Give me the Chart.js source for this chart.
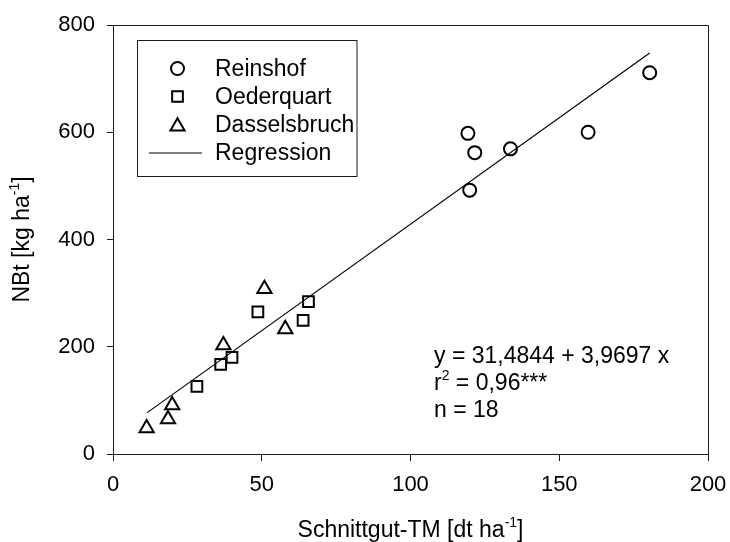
<!DOCTYPE html>
<html><head><meta charset="utf-8">
<script src="https://cdn.jsdelivr.net/npm/chart.js@4.4.1/dist/chart.umd.min.js"></script>
<style>html,body{margin:0;padding:0;background:#fff}</style>
</head><body>
<canvas id="c" width="730" height="542"></canvas>
<script>
// ---- data ----
const seriesNames = ['Reinshof', 'Oederquart', 'Dasselsbruch', 'Regression'];
const reinshofX = [119.3, 121.6, 119.9, 133.6, 159.7, 180.4];
const reinshofY = [598, 562, 492, 569, 600, 711];
const oederquartX = [28.2, 36.2, 40.0, 48.7, 63.9, 65.7];
const oederquartY = [126, 167, 180, 265, 249, 284];
const dasselsbruchX = [11.3, 18.5, 19.9, 37.1, 50.9, 57.9];
const dasselsbruchY = [48, 65, 91, 203, 308, 233];
const regIntercept = 31.4844;
const regSlope = 3.9697;
const regX = [11.5, 180.4];
const xTicks = [0, 50, 100, 150, 200];
const yTicks = [0, 200, 400, 600, 800];
const xTitle = ['Schnittgut-TM [dt ha', '-1', ']'];
const yTitle = ['NBt [kg ha', '-1', ']'];
const statLines = ['y = 31,4844 + 3,9697 x', 'r', '2', ' = 0,96***', 'n = 18'];

const FONT = "'Liberation Sans', Arial, sans-serif";
const INK = '#1a1a1a';
const pts = (xs, ys) => xs.map((x, i) => ({x: x, y: ys[i]}));

const styles = [
  {pointStyle: 'circle', radius: 6.5},
  {pointStyle: 'rect', radius: 7.6},
  {pointStyle: 'triangle', radius: 8.2}
];

function drawMarker(ctx, style, x, y, r) {
  ctx.beginPath();
  if (style === 'circle') {
    ctx.arc(x, y, r, 0, Math.PI * 2);
  } else if (style === 'rect') {
    const s = r * Math.SQRT1_2;
    ctx.rect(x - s, y - s, 2 * s, 2 * s);
  } else {
    let a = 0;
    ctx.moveTo(x + Math.sin(a) * r, y - Math.cos(a) * r);
    a += 2 * Math.PI / 3;
    ctx.lineTo(x + Math.sin(a) * r, y - Math.cos(a) * r);
    a += 2 * Math.PI / 3;
    ctx.lineTo(x + Math.sin(a) * r, y - Math.cos(a) * r);
    ctx.closePath();
  }
  ctx.stroke();
}

function supText(ctx, parts, x, y, size) {
  ctx.font = size + 'px ' + FONT;
  const w0 = ctx.measureText(parts[0]).width;
  ctx.font = Math.round(size * 0.62) + 'px ' + FONT;
  const w1 = ctx.measureText(parts[1]).width;
  ctx.font = size + 'px ' + FONT;
  const w2 = ctx.measureText(parts[2]).width;
  return {w: w0 + w1 + w2, draw: function () {
    ctx.font = size + 'px ' + FONT;
    ctx.fillText(parts[0], x, y);
    ctx.font = Math.round(size * 0.62) + 'px ' + FONT;
    ctx.fillText(parts[1], x + w0, y - size * 0.42);
    ctx.font = size + 'px ' + FONT;
    ctx.fillText(parts[2], x + w0 + w1, y);
  }};
}

const decor = {
  id: 'decor',
  afterDraw(chart) {
    const ctx = chart.ctx;
    const a = chart.chartArea;
    ctx.save();
    // frame top & right
    ctx.strokeStyle = INK;
    ctx.lineWidth = 1;
    ctx.beginPath();
    ctx.moveTo(Math.round(a.left) + 0.5, Math.round(a.top) + 0.5);
    ctx.lineTo(Math.round(a.right) + 0.5, Math.round(a.top) + 0.5);
    ctx.lineTo(Math.round(a.right) + 0.5, Math.round(a.bottom) + 0.5);
    ctx.stroke();

    // legend
    ctx.strokeRect(137.5, 40.5, 219.5, 136);
    ctx.fillStyle = '#000';
    ctx.textBaseline = 'middle';
    ctx.textAlign = 'left';
    ctx.font = '23px ' + FONT;
    for (let i = 0; i < seriesNames.length; i++) {
      const yy = 68.5 + i * 28;
      ctx.strokeStyle = '#000';
      if (i < 3) {
        ctx.lineWidth = 2;
        const yOff = styles[i].pointStyle === 'triangle' ? 2 : 0;
        drawMarker(ctx, styles[i].pointStyle, 177.5, yy + yOff, styles[i].radius);
      } else {
        ctx.lineWidth = 1;
        ctx.beginPath();
        ctx.moveTo(149, yy + 0.5);
        ctx.lineTo(202, yy + 0.5);
        ctx.stroke();
      }
      ctx.fillText(seriesNames[i], 215, yy + 1);
    }

    // statistics text
    ctx.textBaseline = 'alphabetic';
    ctx.font = '23px ' + FONT;
    const sx = 434;
    ctx.fillText(statLines[0], sx, 363);
    ctx.fillText(statLines[1], sx, 390);
    const rw = ctx.measureText(statLines[1]).width;
    ctx.font = '14px ' + FONT;
    ctx.fillText(statLines[2], sx + rw, 380);
    const sw = ctx.measureText(statLines[2]).width;
    ctx.font = '23px ' + FONT;
    ctx.fillText(statLines[3], sx + rw + sw, 390);
    ctx.fillText(statLines[4], sx, 417);

    // x title
    const cx = (a.left + a.right) / 2;
    let t = supText(ctx, xTitle, 0, 0, 23);
    t = supText(ctx, xTitle, cx - t.w / 2, 537, 23);
    t.draw();

    // y title (rotated)
    ctx.save();
    ctx.translate(29, (a.top + a.bottom) / 2);
    ctx.rotate(-Math.PI / 2);
    let u = supText(ctx, yTitle, 0, 0, 23);
    u = supText(ctx, yTitle, -u.w / 2, 0, 23);
    u.draw();
    ctx.restore();
    ctx.restore();
  }
};

const datasets = [
  {label: seriesNames[0], data: pts(reinshofX, reinshofY)},
  {label: seriesNames[1], data: pts(oederquartX, oederquartY)},
  {label: seriesNames[2], data: pts(dasselsbruchX, dasselsbruchY)}
].map((d, i) => Object.assign(d, {
  type: 'scatter',
  showLine: false,
  pointStyle: styles[i].pointStyle,
  pointRadius: styles[i].radius,
  pointHoverRadius: styles[i].radius,
  borderColor: '#000',
  backgroundColor: 'rgba(0,0,0,0)',
  pointBorderWidth: 2,
  order: 1
}));
datasets.push({
  type: 'line',
  label: seriesNames[3],
  data: regX.map(x => ({x: x, y: regIntercept + regSlope * x})),
  borderColor: '#000',
  borderWidth: 1.2,
  pointRadius: 0,
  fill: false,
  order: 2
});

new Chart(document.getElementById('c'), {
  data: {datasets: datasets},
  options: {
    responsive: false,
    animation: false,
    devicePixelRatio: 1,
    layout: {padding: {left: 0, top: 25, right: 22, bottom: 0}},
    plugins: {legend: {display: false}, tooltip: {enabled: false}},
    scales: {
      x: {
        type: 'linear', min: 0, max: 200,
        afterBuildTicks: s => { s.ticks = xTicks.map(v => ({value: v})); },
        afterFit: s => { s.height = 88; s.paddingLeft = 0; s.paddingRight = 0; },
        grid: {display: true, drawOnChartArea: false, drawTicks: true, tickLength: 7, color: INK, lineWidth: 1},
        border: {display: true, color: INK, width: 1},
        ticks: {color: '#000', padding: 11, font: {family: FONT, size: 22}, maxRotation: 0}
      },
      y: {
        type: 'linear', min: 0, max: 800,
        afterBuildTicks: s => { s.ticks = yTicks.map(v => ({value: v})); },
        afterFit: s => { s.width = 113; s.paddingTop = 0; s.paddingBottom = 0; },
        grid: {display: true, drawOnChartArea: false, drawTicks: true, tickLength: 6, color: INK, lineWidth: 1},
        border: {display: true, color: INK, width: 1},
        ticks: {color: '#000', padding: 12, font: {family: FONT, size: 22}}
      }
    }
  },
  plugins: [decor]
});
</script>
</body></html>
